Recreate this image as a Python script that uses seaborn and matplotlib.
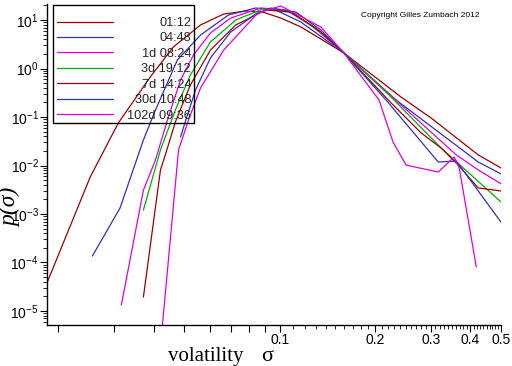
import numpy as np
import pandas as pd
import matplotlib
matplotlib.use("Agg")
import matplotlib.pyplot as plt
import matplotlib.patches as mpatches
import seaborn as sns
from matplotlib.ticker import FixedLocator, NullFormatter, FixedFormatter, LogFormatterSciNotation

# ---- data ----
labels = ["01:12", "04:48", "1d 08:24", "3d 19:12", "7d 14:24", "30d 10:48", "102d 09:36"]
colors = ["#A00000", "#3030C0", "#E000E0", "#00B000", "#A00000", "#3030C0", "#E000E0"]

sigma_0112 = [0.0184, 0.0252, 0.0309, 0.0390, 0.0461, 0.0562, 0.0665, 0.0780, 0.0884, 0.1007, 0.1166, 0.1595, 0.2417, 0.301, 0.4238, 0.5]
p_0112 = [3.8e-5, 5.8e-3, 0.075, 0.67, 2.77, 7.9, 13.3, 15.3, 14.6, 11.0, 7.2, 2.09, 0.258, 0.095, 0.0165, 0.0089]

sigma_0448 = [0.0256, 0.0313, 0.0371, 0.0405, 0.0475, 0.0562, 0.0689, 0.0839, 0.0971, 0.1166, 0.1595, 0.2332, 0.4238, 0.5]
p_0448 = [1.36e-4, 1.33e-3, 0.0336, 0.139, 1.50, 4.9, 12.7, 17.7, 16.1, 9.1, 2.09, 0.224, 0.0118, 0.0067]

sigma_1d = [0.0316, 0.0371, 0.0405, 0.0442, 0.0486, 0.0534, 0.0604, 0.0700, 0.0871, 0.1045, 0.1254, 0.1595, 0.2417, 0.3612, 0.4238, 0.5]
p_1d = [1.33e-5, 3.1e-3, 0.013, 0.087, 0.58, 1.9, 5.4, 11.0, 17.7, 16.1, 7.9, 2.09, 0.177, 0.0165, 0.0081, 0.0042]

sigma_3d = [0.0371, 0.0420, 0.0468, 0.0522, 0.0604, 0.0726, 0.0884, 0.1084, 0.1300, 0.1595, 0.2215, 0.3237, 0.5]
p_3d = [1.21e-3, 0.0209, 0.139, 0.734, 3.52, 10.0, 16.9, 14.6, 6.84, 2.09, 0.284, 0.0229, 0.00177]

sigma_7d = [0.0371, 0.0420, 0.0435, 0.0468, 0.0522, 0.0604, 0.0726, 0.0903, 0.1084, 0.1349, 0.1595, 0.2248, 0.2798, 0.3237, 0.3664, 0.4238, 0.5]
p_7d = [1.94e-5, 8.1e-3, 0.0165, 0.0788, 0.457, 2.40, 7.89, 16.1, 14.6, 5.66, 2.09, 0.195, 0.0468, 0.0229, 0.0102, 0.00344, 0.00298]

sigma_30d = [0.0486, 0.0511, 0.0542, 0.0604, 0.0700, 0.0839, 0.0936, 0.1124, 0.1349, 0.1595, 0.2167, 0.3168, 0.3612, 0.5]
p_30d = [0.0387, 0.110, 0.360, 1.65, 5.66, 13.3, 17.7, 14.6, 6.22, 2.09, 0.224, 0.0118, 0.0124, 6.8e-4]

sigma_102d = [0.0426, 0.0479, 0.0515, 0.0562, 0.0665, 0.0852, 0.1007, 0.1349, 0.1595, 0.2059, 0.2280, 0.2507, 0.3168, 0.3558, 0.3690, 0.4178]
p_102d = [5.1e-6, 0.0209, 0.0867, 0.396, 2.40, 13.9, 19.5, 7.18, 2.09, 0.224, 0.0305, 0.0102, 0.00734, 0.0150, 0.00888, 8.1e-5]

xticks_major = [0.1, 0.2, 0.3, 0.4, 0.5]
xtick_labels = ["0.1", "0.2", "0.3", "0.4", "0.5"]
yticks_major = [1e-5, 1e-4, 1e-3, 1e-2, 1e-1, 1e0, 1e1]

series = [(sigma_0112, p_0112), (sigma_0448, p_0448), (sigma_1d, p_1d), (sigma_3d, p_3d),
          (sigma_7d, p_7d), (sigma_30d, p_30d), (sigma_102d, p_102d)]
frames = []
for lab, (s, p) in zip(labels, series):
    frames.append(pd.DataFrame({"sigma": s, "p": p, "horizon": lab}))
df = pd.concat(frames, ignore_index=True)

# ---- style ----
sns.set_theme(style="white")
plt.rcParams['font.family'] = ['Liberation Sans', 'DejaVu Sans']
plt.rcParams['mathtext.fontset'] = 'custom'
plt.rcParams['mathtext.rm'] = 'Liberation Sans'
plt.rcParams['mathtext.it'] = 'Liberation Sans:italic'
plt.rcParams['mathtext.bf'] = 'Liberation Sans:bold'

fig = plt.figure(figsize=(5.12, 3.66), dpi=100)
ax = fig.add_axes([47/512, 41/366, 454/512, 321/366])

sns.lineplot(data=df, x="sigma", y="p", hue="horizon", hue_order=labels,
             palette=colors, sort=False, estimator=None, units="horizon",
             linewidth=0.9, legend=False, ax=ax)

ax.set_xscale("log")
ax.set_yscale("log")
ax.set_xlim(0.0184, 0.5)
ax.set_ylim(5.14e-6, 21.4)

for side in ["top", "right"]:
    ax.spines[side].set_visible(False)
for side in ["left", "bottom"]:
    ax.spines[side].set_color("black")
    ax.spines[side].set_linewidth(1.0)

# x ticks
xmaj = [0.02, 0.03, 0.04, 0.05, 0.06, 0.07, 0.08, 0.09] + xticks_major
ax.xaxis.set_major_locator(FixedLocator(xmaj))
ax.xaxis.set_major_formatter(FixedFormatter([""] * 8 + xtick_labels))
xmin = [round(0.1 + 0.01 * i, 2) for i in range(1, 40) if (i % 10) != 0]
ax.xaxis.set_minor_locator(FixedLocator(xmin))
ax.xaxis.set_minor_formatter(NullFormatter())

# y ticks (only inside the visible range)
ax.yaxis.set_major_locator(FixedLocator(yticks_major))
ax.yaxis.set_major_formatter(LogFormatterSciNotation())
ymin_ticks = [m * d for d in [1e-6, 1e-5, 1e-4, 1e-3, 1e-2, 1e-1, 1e0, 1e1] for m in range(2, 10)
              if 5.14e-6 <= m * d <= 21.4]
ax.yaxis.set_minor_locator(FixedLocator(ymin_ticks))
ax.yaxis.set_minor_formatter(NullFormatter())

ax.tick_params(which="major", direction="out", length=5, width=0.8, color="black",
               labelsize=10, labelcolor="black", pad=1, left=True, bottom=True)
ax.tick_params(which="minor", direction="out", length=3, width=0.6, color="black",
               left=True, bottom=True)
ax.set_xlabel("")
ax.set_ylabel("")

# legend: frame drawn as a rectangle, entries right-aligned
H = 321.0
box = mpatches.Rectangle((6/454, 1 - 119/H), (194-53)/454, 118/H, transform=ax.transAxes,
                         fill=False, edgecolor="black", linewidth=1.0, clip_on=False, zorder=5)
ax.add_patch(box)
leg = ax.legend(ax.lines, labels, loc="upper left", bbox_to_anchor=(10/454, 1 - 13/H),
                borderaxespad=0, frameon=False, handlelength=4.4, handletextpad=1.1,
                labelspacing=0.27, fontsize=9.2, borderpad=0)
fig.canvas.draw()
r = fig.canvas.get_renderer()
widths = [t.get_window_extent(r).width for t in leg.get_texts()]
w = max(widths)
for t, wi in zip(leg.get_texts(), widths):
    t.set_position((w - wi, 0))

fig.text(420/512, 1 - 15.5/366, "Copyright Gilles Zumbach 2012", fontsize=6,
         ha="center", va="center", color="black")
fig.text(168/512, 1 - 361/366, "volatility", family=["Liberation Serif", "DejaVu Serif"],
         fontsize=15, ha="left", va="baseline", color="black")
fig.text(267.5/512, 1 - 361/366, "\u03c3", family=["Liberation Serif", "DejaVu Serif"],
         fontsize=16, ha="center", va="baseline", color="black")
fig.text(11/512, 1 - 207/366, "p(\u03c3)", family=["Liberation Serif", "DejaVu Serif"],
         style="italic", fontsize=17, rotation=90, ha="center", va="center", color="black")

fig.savefig("out.png", dpi=100, facecolor="white")
